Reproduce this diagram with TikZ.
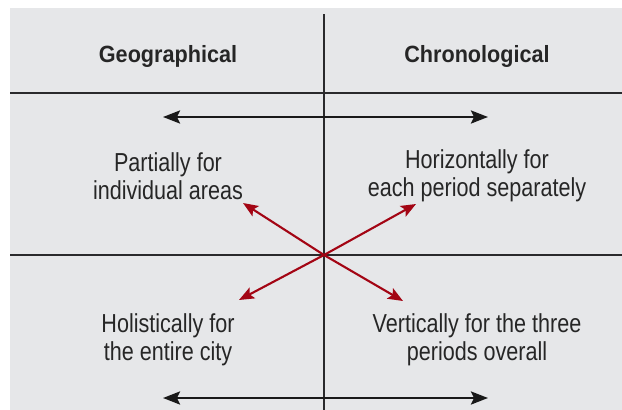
\documentclass[tikz,border=0pt]{standalone}
\usepackage{fontspec}
\setmainfont{Liberation Sans}
\newfontfamily\bodyfont[FakeStretch=0.83]{Liberation Sans}
\newfontfamily\headfont[FakeStretch=0.92]{Liberation Sans Bold}
\usetikzlibrary{arrows.meta}
\definecolor{panelgray}{HTML}{E6E7E9}
\definecolor{gridline}{HTML}{2A2A2C}
\definecolor{crossred}{HTML}{A30514}
\tikzset{
  heading/.style={anchor=base, inner sep=0pt, text=black!85,
    font=\headfont\fontsize{23.5}{28}\selectfont},
  entry/.style={anchor=center, inner sep=0pt, align=center, text=black!85,
    font=\bodyfont\fontsize{26}{28.5}\selectfont},
  divider/.style={draw=gridline, line width=1.2pt},
  span/.style={draw=black!90, line width=2.6pt,
    {Stealth[length=17pt,width=13pt,inset=3pt]}-{Stealth[length=17pt,width=13pt,inset=3pt]}},
  link/.style={draw=crossred, line width=2.1pt,
    -{Stealth[length=15pt,width=12pt,inset=3pt]}}
}
\begin{document}
\begin{tikzpicture}[x=1pt,y=-1pt]
  \useasboundingbox (0,0) rectangle (622,410);
  \fill[panelgray] (10,8) rectangle (622,410);

  % grid
  \draw[divider] (10,93) -- (622,93);
  \draw[divider] (10,255) -- (622,255);
  \draw[divider] (324,14) -- (324,410);

  % column headings
  \node[heading] (geo) at (168,62) {Geographical};
  \node[heading] (chrono) at (477,62) {Chronological};

  % cell texts
  \node[entry] (partial) at (168,176) {Partially for\\individual areas};
  \node[entry] (horiz) at (477,176) {Horizontally for\\each period separately};
  \node[entry] (holist) at (168,340) {Holistically for\\the entire city};
  \node[entry] (vert) at (477,340) {Vertically for the three\\periods overall};

  % arrow end points
  \coordinate (tl) at (163,117);
  \coordinate (tr) at (488,117);
  \coordinate (bl) at (163,398);
  \coordinate (br) at (488,398);
  \coordinate (mid) at (324,255);
  \coordinate (ul) at (243,203);
  \coordinate (ur) at (416,204);
  \coordinate (ll) at (239,300);
  \coordinate (lr) at (403,301);

  % horizontal double arrows
  \draw[span] (tl) -- (tr);
  \draw[span] (bl) -- (br);

  % red cross of arrows
  \draw[link] (mid) -- (ul);
  \draw[link] (mid) -- (ur);
  \draw[link] (mid) -- (ll);
  \draw[link] (mid) -- (lr);
\end{tikzpicture}
\end{document}
